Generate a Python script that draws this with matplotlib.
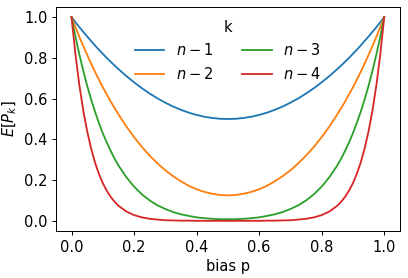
import numpy as np
import matplotlib
matplotlib.use("Agg")
from matplotlib import pyplot as plt

plt.rcParams['font.size'] = 12

# bias values (x axis), denser near the ends where the curves are steep
p = [0.0, 0.0125, 0.025, 0.0375, 0.05, 0.0625, 0.075, 0.0875, 0.1, 0.1125, 0.125, 0.1375,
     0.15, 0.175, 0.2, 0.225, 0.25, 0.275, 0.3, 0.325, 0.35, 0.375, 0.4, 0.425, 0.45, 0.475, 0.5,
     0.525, 0.55, 0.575, 0.6, 0.625, 0.65, 0.675, 0.7, 0.725, 0.75, 0.775, 0.8, 0.825,
     0.85, 0.8625, 0.875, 0.8875, 0.9, 0.9125, 0.925, 0.9375, 0.95, 0.9625, 0.975, 0.9875, 1.0]

# E[P_k]
k_n1 = [1.0, 0.975, 0.951, 0.928, 0.905, 0.883, 0.861, 0.840, 0.82, 0.800, 0.781, 0.763,
        0.745, 0.711, 0.68, 0.651, 0.625, 0.601, 0.58, 0.561, 0.545, 0.531, 0.52, 0.511, 0.505, 0.501, 0.5,
        0.501, 0.505, 0.511, 0.52, 0.531, 0.545, 0.561, 0.58, 0.601, 0.625, 0.651, 0.68, 0.711,
        0.745, 0.763, 0.781, 0.800, 0.82, 0.840, 0.861, 0.883, 0.905, 0.928, 0.951, 0.975, 1.0]
k_n2 = [1.0, 0.951, 0.904, 0.858, 0.815, 0.772, 0.732, 0.693, 0.656, 0.621, 0.586, 0.554,
        0.523, 0.464, 0.411, 0.363, 0.32, 0.282, 0.248, 0.219, 0.194, 0.172, 0.155, 0.142, 0.133, 0.127, 0.125,
        0.127, 0.133, 0.142, 0.155, 0.172, 0.194, 0.219, 0.248, 0.282, 0.32, 0.363, 0.411, 0.464,
        0.523, 0.554, 0.586, 0.621, 0.656, 0.693, 0.732, 0.772, 0.815, 0.858, 0.904, 0.951, 1.0]
k_n3 = [1.0, 0.904, 0.817, 0.737, 0.663, 0.597, 0.536, 0.481, 0.43, 0.385, 0.344, 0.306,
        0.272, 0.215, 0.168, 0.13, 0.1, 0.076, 0.058, 0.043, 0.032, 0.024, 0.017, 0.013, 0.01, 0.008, 0.008,
        0.008, 0.01, 0.013, 0.017, 0.024, 0.032, 0.043, 0.058, 0.076, 0.1, 0.13, 0.168, 0.215,
        0.272, 0.306, 0.344, 0.385, 0.43, 0.481, 0.536, 0.597, 0.663, 0.737, 0.817, 0.904, 1.0]
k_n4 = [1.0, 0.818, 0.667, 0.542, 0.44, 0.356, 0.287, 0.231, 0.185, 0.148, 0.118, 0.094,
        0.074, 0.046, 0.028, 0.017, 0.01, 0.006, 0.003, 0.002, 0.001, 0.001, 0.0, 0.0, 0.0, 0.0, 0.0,
        0.0, 0.0, 0.0, 0.0, 0.001, 0.001, 0.002, 0.003, 0.006, 0.01, 0.017, 0.028, 0.046,
        0.074, 0.094, 0.118, 0.148, 0.185, 0.231, 0.287, 0.356, 0.44, 0.542, 0.667, 0.818, 1.0]

labels = ['$n-1$', '$n-2$', '$n-3$', '$n-4$']

dpi = 88
fig = plt.figure(figsize=(408 / dpi, 278 / dpi), dpi=dpi)
ax = fig.add_axes([0.137, 0.169, 0.843, 0.806])

for vals, lab in zip([k_n1, k_n2, k_n3, k_n4], labels):
    ax.plot(p, vals, label=lab)

ax.set_xlabel('bias p')
ax.set_ylabel('$E[P_k]$')
ax.legend(title='k', ncol=2, loc='upper center', frameon=False)

fig.savefig('out.png', dpi=dpi)
